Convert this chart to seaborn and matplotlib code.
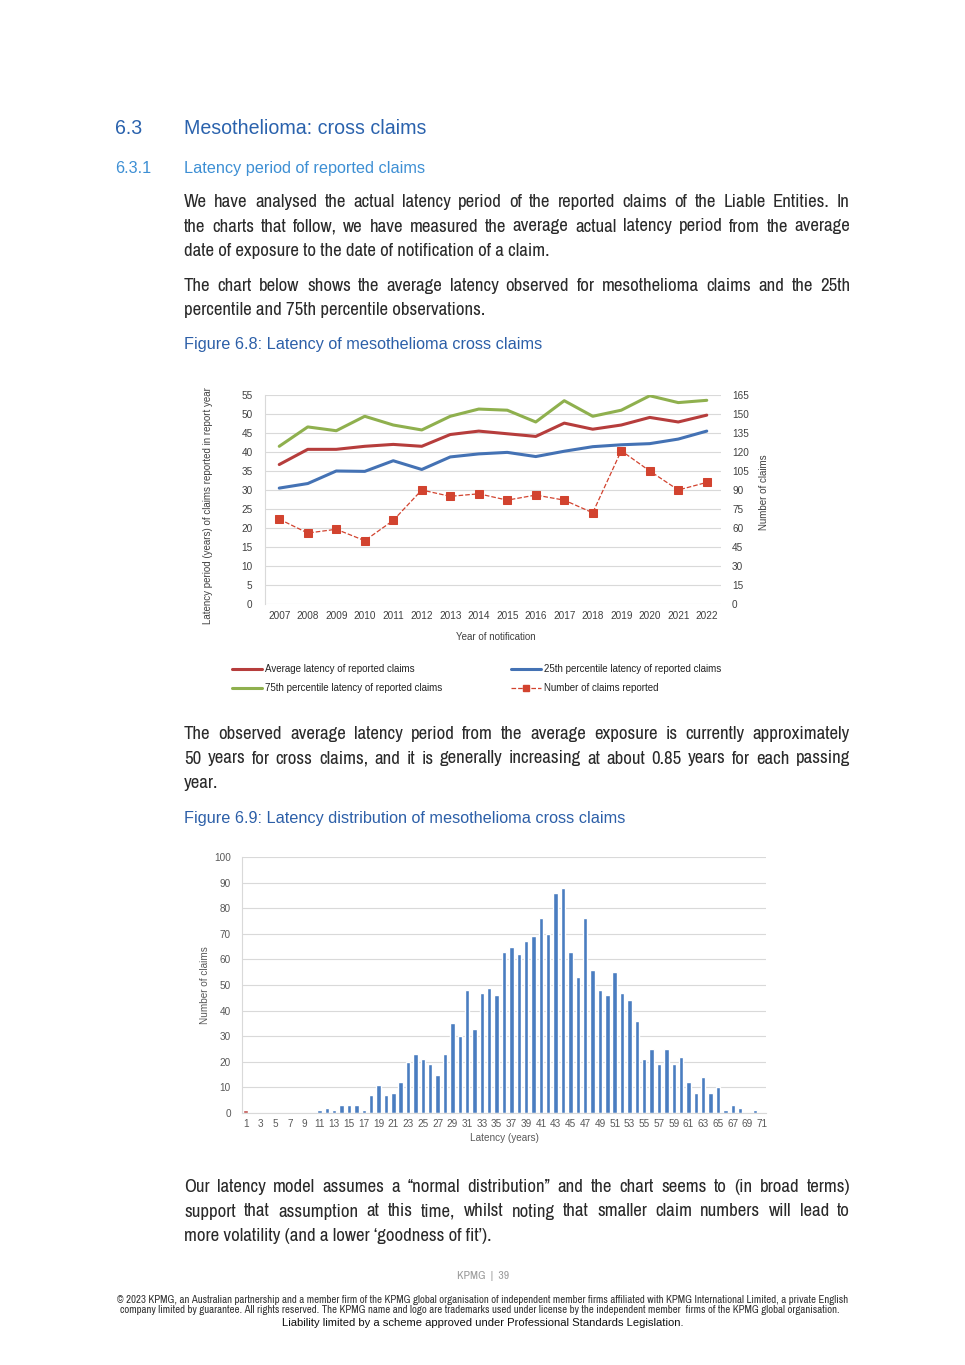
import matplotlib
matplotlib.use("Agg")
import matplotlib.pyplot as plt
import seaborn as sns
import numpy as np
import pandas as pd
from matplotlib import font_manager
from matplotlib.lines import Line2D

# ---------------- data ----------------
years = list(range(2007, 2023))
avg_latency = [36.7, 40.7, 40.7, 41.5, 42.0, 41.5, 44.6, 45.5, 44.8, 44.1, 47.6, 46.0, 47.1, 49.1, 47.9, 49.7]
p25_latency = [30.5, 31.7, 35.0, 34.9, 37.7, 35.4, 38.7, 39.5, 39.9, 38.8, 40.2, 41.4, 41.9, 42.2, 43.4, 45.5]
p75_latency = [41.5, 46.6, 45.6, 49.4, 47.1, 45.8, 49.4, 51.3, 51.0, 47.9, 53.5, 49.4, 51.0, 54.8, 53.0, 53.6]
claims_reported = [67, 56, 59, 50, 66, 90, 85, 87, 82, 86, 82, 72, 121, 105, 90, 96]

latency_years = list(range(1, 72))
latency_counts = [1, 0, 0, 0, 0, 0, 0, 0, 0, 0,
                  1, 2, 1, 3, 3, 3, 1, 7, 11, 7,
                  8, 12, 20, 23, 21, 19, 15, 23, 35, 30,
                  48, 33, 47, 49, 46, 63, 65, 62, 67, 69,
                  76, 70, 86, 88, 63, 53, 76, 56, 48, 46,
                  55, 47, 44, 36, 21, 25, 19, 25, 19, 22,
                  12, 8, 14, 8, 10, 1, 3, 2, 0, 1, 0]

legend_labels = ["Average latency of reported claims",
                 "75th percentile latency of reported claims",
                 "25th percentile latency of reported claims",
                 "Number of claims reported"]

# ---------------- setup ----------------
sns.set_theme(style="white")
plt.rcParams["font.family"] = ["Liberation Sans", "DejaVu Sans"]

SANS = ["Liberation Sans", "DejaVu Sans"]
ttf = font_manager.fontManager.ttflist
narrow_names = sorted({f.name for f in ttf if ("Narrow" in f.name or "Condensed" in f.name)})
BODY_STRETCH = "normal"
if narrow_names:
    pref = [n for n in narrow_names if "Liberation" in n] or [n for n in narrow_names if "DejaVu" in n] or narrow_names
    BODY = [pref[0], "DejaVu Sans"]
elif any(f.name == "DejaVu Sans" and f.stretch in ("condensed", "semi-condensed") for f in ttf):
    BODY = ["DejaVu Sans"]
    BODY_STRETCH = "condensed"
else:
    BODY = SANS

W, H = 965, 1365
fig = plt.figure(figsize=(W / 100, H / 100), dpi=100)
renderer = fig.canvas.get_renderer()


def fx(x):
    return x / W


def fy(y):
    return 1 - y / H


def stretch_of(family):
    return BODY_STRETCH if family is BODY else "normal"


def text_width(s, family, size):
    t = fig.text(0, 0, s, family=family, fontsize=size, fontstretch=stretch_of(family))
    w = t.get_window_extent(renderer).width
    t.remove()
    return w


def fit_size(s, family, target):
    return 10 * target / text_width(s, family, 10)


def put(x, y, s, family, size, color, ha="left"):
    fig.text(fx(x), fy(y), s, family=family, fontsize=size, color=color, ha=ha, va="baseline",
             fontstretch=stretch_of(family))


def justified(x0, x1, y, s, family, size, color):
    words = s.split(" ")
    widths = [text_width(w, family, size) for w in words]
    gap = (x1 - x0 - sum(widths)) / max(len(words) - 1, 1)
    x = x0
    for w, wd in zip(words, widths):
        put(x, y, w, family, size, color)
        x += wd + gap


BODY_COLOR = "#2a2a2a"
H_BLUE = "#2a62ad"
SUB_BLUE = "#3d8fd4"
CAP_BLUE = "#2c5fa8"
X0, X1 = 184, 850

# ---------------- headings & text ----------------
hsize = fit_size("Mesothelioma: cross claims", SANS, 242)
put(115, 134, "6.3", SANS, hsize, H_BLUE)
put(184, 134, "Mesothelioma: cross claims", SANS, hsize, H_BLUE)
ssize = fit_size("Latency period of reported claims", SANS, 241)
put(115, 173, "6.3.1", SANS, ssize, SUB_BLUE)
put(184, 173, "Latency period of reported claims", SANS, ssize, SUB_BLUE)

bsize = fit_size("date of exposure to the date of notification of a claim.", BODY, 366)


def paragraph(lines, y0, step=24.5):
    for i, ln in enumerate(lines):
        y = y0 + i * step
        if i < len(lines) - 1:
            justified(X0, X1, y, ln, BODY, bsize, BODY_COLOR)
        else:
            put(X0, y, ln, BODY, bsize, BODY_COLOR)


paragraph(["We have analysed the actual latency period of the reported claims of the Liable Entities. In",
           "the charts that follow, we have measured the average actual latency period from the average",
           "date of exposure to the date of notification of a claim."], 207)
paragraph(["The chart below shows the average latency observed for mesothelioma claims and the 25th",
           "percentile and 75th percentile observations."], 291)
cap1 = "Figure 6.8: Latency of mesothelioma cross claims"
put(184, 349, cap1, SANS, fit_size(cap1, SANS, 357), CAP_BLUE)

paragraph(["The observed average latency period from the average exposure is currently approximately",
           "50 years for cross claims, and it is generally increasing at about 0.85 years for each passing",
           "year."], 739)
cap2 = "Figure 6.9: Latency distribution of mesothelioma cross claims"
put(184, 823, cap2, SANS, fit_size(cap2, SANS, 442), CAP_BLUE)

paragraph(["Our latency model assumes a \u201cnormal distribution\u201d and the chart seems to (in broad terms)",
           "support that assumption at this time, whilst noting that smaller claim numbers will lead to",
           "more volatility (and a lower \u2018goodness of fit\u2019)."], 1192)

put(483, 1279, "KPMG  |  39", BODY, fit_size("KPMG  |  39", BODY, 52), "#9a9a9a", ha="center")
f1 = ("\u00a9 2023 KPMG, an Australian partnership and a member firm of the KPMG global organisation of independent "
      "member firms affiliated with KPMG International Limited, a private English")
f2 = ("company limited by guarantee. All rights reserved. The KPMG name and logo are trademarks used under license "
      "by the independent member  firms of the KPMG global organisation.")
f3 = "Liability limited by a scheme approved under Professional Standards Legislation."
fs = fit_size(f1, BODY, 731)
put(483, 1303, f1, BODY, fs, "#333333", ha="center")
put(480, 1313, f2, BODY, fs, "#333333", ha="center")
put(483, 1326, f3, SANS, fit_size(f3, SANS, 403), "#111111", ha="center")

# ---------------- chart 1 ----------------
RED = "#b63d3c"
BLUE = "#4472b4"
GREEN = "#8fb04e"
DRED = "#d2432f"
GRID = "#d9d9d9"
TICK = "#404040"

ax1 = fig.add_axes([fx(265), fy(604), (721 - 265) / W, (604 - 395) / H])
df1 = pd.DataFrame({"year": years, "avg": avg_latency, "p25": p25_latency,
                    "p75": p75_latency, "claims": claims_reported})
sns.lineplot(data=df1, x="year", y="p75", ax=ax1, color=GREEN, lw=2.2)
sns.lineplot(data=df1, x="year", y="avg", ax=ax1, color=RED, lw=2.2)
sns.lineplot(data=df1, x="year", y="p25", ax=ax1, color=BLUE, lw=2.2)
ax1.set_xlim(2006.5, 2022.5)
ax1.set_ylim(0, 55)
ax1.set_yticks(np.arange(0, 56, 5))
ax1.set_xticks(years)
ax1.set_xticklabels([str(y) for y in years])
ax1.grid(axis="y", color=GRID, lw=0.8)
ax1.set_axisbelow(True)
for s in ["top", "right", "bottom"]:
    ax1.spines[s].set_visible(False)
ax1.spines["left"].set_color(GRID)
ax1.spines["left"].set_linewidth(0.8)
ax1.tick_params(axis="both", length=0, labelsize=7.2, labelcolor=TICK)
ax1.tick_params(axis="y", pad=9)
ax1.tick_params(axis="x", pad=5)
ax1.set_xlabel("")
ax1.set_ylabel("")

ax2 = ax1.twinx()
sns.lineplot(data=df1, x="year", y="claims", ax=ax2, color=DRED, lw=0.9, ls="--",
             marker="s", markersize=5.5, markeredgecolor=DRED, markerfacecolor=DRED)
ax2.set_ylim(0, 165)
ax2.set_yticks(np.arange(0, 166, 15))
for s in ["top", "right", "bottom", "left"]:
    ax2.spines[s].set_visible(False)
ax2.tick_params(axis="y", length=0, labelsize=7.2, labelcolor=TICK, pad=8)
ax2.set_ylabel("")
ax2.set_xlabel("")
ax2.grid(False)

fig.text(fx(208), fy(506), "Latency period (years) of claims reported in report year", rotation=90,
         ha="center", va="center", fontsize=7, color=TICK)
fig.text(fx(764), fy(492), "Number of claims", rotation=90, ha="center", va="center", fontsize=7, color=TICK)
fig.text(fx(496), fy(637), "Year of notification", ha="center", va="center", fontsize=7, color=TICK)

handles = [Line2D([], [], color=RED, lw=2.2),
           Line2D([], [], color=GREEN, lw=2.2),
           Line2D([], [], color=BLUE, lw=2.2),
           Line2D([], [], color=DRED, lw=0.9, ls="--", marker="s", markersize=5)]
fig.legend(handles, legend_labels, ncol=2, loc="upper left", bbox_to_anchor=(fx(232), fy(664)),
           frameon=False, fontsize=7, handlelength=3.1, handletextpad=0.3, columnspacing=7.1,
           labelspacing=0.95, borderpad=0, borderaxespad=0, labelcolor="#222222")

# ---------------- chart 2 ----------------
BAR = "#4a7dc0"
ax3 = fig.add_axes([fx(242), fy(1113), (766 - 242) / W, (1113 - 857) / H])
df2 = pd.DataFrame({"latency": latency_years, "count": latency_counts})
pal = {v: ("#c0504d" if v == 1 else BAR) for v in latency_years}
sns.barplot(data=df2, x="latency", y="count", hue="latency", palette=pal, legend=False,
            width=0.6, ax=ax3, order=latency_years, hue_order=latency_years, saturation=1)
ax3.set_xlim(-0.5, len(latency_years) - 0.5)
ax3.set_ylim(0, 100)
ax3.set_yticks(np.arange(0, 101, 10))
ax3.set_xticks(range(0, len(latency_years), 2))
ax3.set_xticklabels([str(v) for v in latency_years[::2]])
ax3.grid(axis="y", color=GRID, lw=0.8)
ax3.set_axisbelow(True)
for s in ["top", "right"]:
    ax3.spines[s].set_visible(False)
for s in ["left", "bottom"]:
    ax3.spines[s].set_color(GRID)
    ax3.spines[s].set_linewidth(0.8)
ax3.tick_params(axis="both", length=0, labelsize=7.2, labelcolor="#595959")
ax3.tick_params(axis="y", pad=8)
ax3.tick_params(axis="x", pad=4)
ax3.set_xlabel("")
ax3.set_ylabel("")
fig.text(fx(504), fy(1138), "Latency (years)", ha="center", va="center", fontsize=7.2, color="#595959")
fig.text(fx(205), fy(985), "Number of claims", rotation=90, ha="center", va="center", fontsize=7.2, color="#595959")

fig.savefig("out.png", dpi=100, facecolor="white")
